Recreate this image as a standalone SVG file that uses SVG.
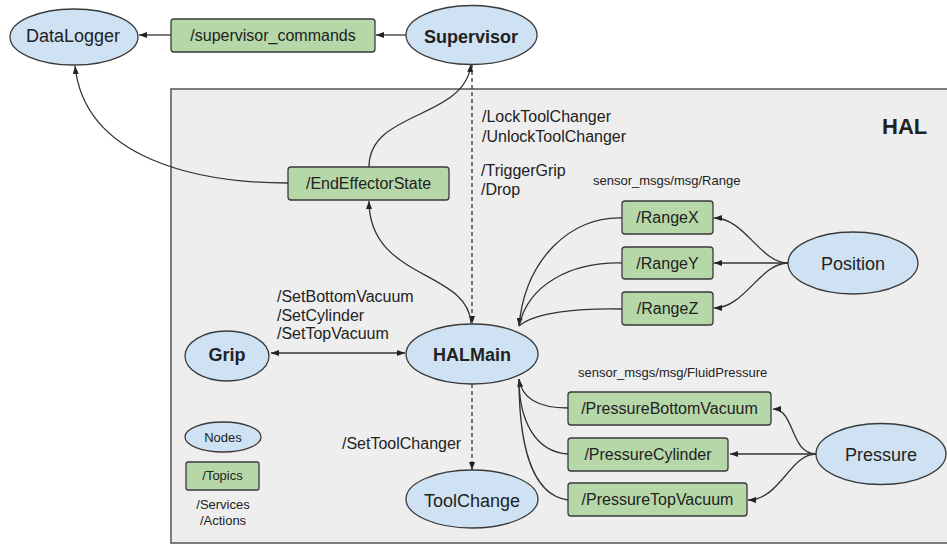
<svg xmlns="http://www.w3.org/2000/svg" width="947" height="545" viewBox="0 0 947 545">
  <style>
    .node { fill: #cfe2f3; stroke: #3a3a3a; stroke-width: 1.3; }
    .topic { fill: #b6d7a8; stroke: #3a3a3a; stroke-width: 1.3; }
    .lbl { font-family: "Liberation Sans", Arial, sans-serif; fill: #222; }
    .nl { font-size: 18px; text-anchor: middle; }
    .bold { font-weight: bold; }
    .tl { font-size: 16px; text-anchor: middle; }
    .sl { font-size: 16px; }
    .small { font-size: 13px; }
    .edge { fill: none; stroke: #333; stroke-width: 1.3; }
    .dash { stroke-dasharray: 4 3; }
  </style>
  <defs>
    <marker id="arrow" viewBox="0 0 8 6" refX="8" refY="3" markerWidth="8" markerHeight="6" markerUnits="userSpaceOnUse" orient="auto-start-reverse">
      <path d="M0,0 L8,3 L0,6 z" fill="#222"/>
    </marker>
  </defs>

  <!-- HAL package boundary -->
  <g id="hal">
    <rect x="171" y="89" width="790" height="454" fill="#eeeeee" stroke="#555" stroke-width="1.5"/>
    <text class="lbl bold" x="882" y="134" font-size="22">HAL</text>
  </g>

  <!-- connectors -->
  <g id="connectors">
    <path class="edge" d="M171,35 L139,35" marker-end="url(#arrow)"/>
    <path class="edge" d="M406,35 L376,35" marker-end="url(#arrow)"/>
    <path class="edge" d="M288,183 C200,183 85,160 75,66" marker-end="url(#arrow)"/>
    <path class="edge" d="M369,167 C369,110 465,120 471,64" marker-end="url(#arrow)"/>
    <path class="edge dash" d="M472,64 L472,324" marker-end="url(#arrow)"/>
    <path class="edge" d="M471,323 C468,270 369,280 369,201" marker-end="url(#arrow)"/>
    <path class="edge" d="M271,353 L405,353" marker-start="url(#arrow)" marker-end="url(#arrow)"/>
    <path class="edge dash" d="M472,384 L472,470" marker-end="url(#arrow)"/>
    <!-- range topics into HALMain -->
    <path class="edge" d="M622,218 C570,216 525,260 519,326" marker-end="url(#arrow)"/>
    <path class="edge" d="M622,263 C570,262 528,285 519,326"/>
    <path class="edge" d="M622,309 C580,308 535,312 519,326"/>
    <!-- Position publishes ranges -->
    <path class="edge" d="M788,263 C760,263 745,218 714,218" marker-end="url(#arrow)"/>
    <path class="edge" d="M788,263 L714,263" marker-end="url(#arrow)"/>
    <path class="edge" d="M788,263 C760,263 745,308 714,308" marker-end="url(#arrow)"/>
    <!-- pressure topics into HALMain -->
    <path class="edge" d="M568,408 C540,408 522,400 519,379" marker-end="url(#arrow)"/>
    <path class="edge" d="M568,454 C535,452 519,420 519,379"/>
    <path class="edge" d="M568,500 C530,495 519,440 519,379"/>
    <!-- Pressure publishes pressures -->
    <path class="edge" d="M816,454 C790,454 795,409 773,409" marker-end="url(#arrow)"/>
    <path class="edge" d="M816,454 L730,454" marker-end="url(#arrow)"/>
    <path class="edge" d="M816,454 C790,454 780,500 748,500" marker-end="url(#arrow)"/>
  </g>

  <!-- service / action labels -->
  <g id="service-labels" class="lbl sl">
    <text x="482" y="122">/LockToolChanger</text>
    <text x="482" y="142">/UnlockToolChanger</text>
    <text x="481" y="176">/TriggerGrip</text>
    <text x="481" y="195">/Drop</text>
    <text x="277" y="302">/SetBottomVacuum</text>
    <text x="277" y="321">/SetCylinder</text>
    <text x="277" y="339">/SetTopVacuum</text>
    <text x="342" y="449">/SetToolChanger</text>
    <text class="small" x="593" y="185">sensor_msgs/msg/Range</text>
    <text class="small" x="578" y="377">sensor_msgs/msg/FluidPressure</text>
  </g>

  <!-- nodes -->
  <g id="DataLogger">
    <ellipse class="node" cx="74" cy="37" rx="64" ry="28"/>
    <text class="lbl nl" x="73" y="42">DataLogger</text>
  </g>
  <g id="Supervisor">
    <ellipse class="node" cx="471.5" cy="35" rx="65.5" ry="29.5"/>
    <text class="lbl nl bold" x="471" y="43">Supervisor</text>
  </g>
  <g id="HALMain">
    <ellipse class="node" cx="472" cy="354" rx="66" ry="30"/>
    <text class="lbl nl bold" x="472" y="361">HALMain</text>
  </g>
  <g id="Grip">
    <ellipse class="node" cx="227" cy="356" rx="42" ry="25"/>
    <text class="lbl nl bold" x="227" y="361">Grip</text>
  </g>
  <g id="ToolChange">
    <ellipse class="node" cx="472" cy="499" rx="66" ry="29"/>
    <text class="lbl nl" x="472" y="507">ToolChange</text>
  </g>
  <g id="Position">
    <ellipse class="node" cx="853" cy="263" rx="65" ry="31"/>
    <text class="lbl nl" x="853" y="270">Position</text>
  </g>
  <g id="Pressure">
    <ellipse class="node" cx="881" cy="454" rx="65" ry="30.5"/>
    <text class="lbl nl" x="881" y="461">Pressure</text>
  </g>

  <!-- topics -->
  <g id="supervisor_commands">
    <rect class="topic" x="171" y="19" width="204" height="33" rx="3"/>
    <text class="lbl tl" x="273" y="41">/supervisor_commands</text>
  </g>
  <g id="EndEffectorState">
    <rect class="topic" x="288" y="167" width="161" height="33" rx="3"/>
    <text class="lbl tl" x="368.5" y="189">/EndEffectorState</text>
  </g>
  <g id="RangeX">
    <rect class="topic" x="622" y="201" width="91" height="33" rx="3"/>
    <text class="lbl tl" x="667.5" y="223">/RangeX</text>
  </g>
  <g id="RangeY">
    <rect class="topic" x="622" y="247" width="91" height="32" rx="3"/>
    <text class="lbl tl" x="667.5" y="269">/RangeY</text>
  </g>
  <g id="RangeZ">
    <rect class="topic" x="622" y="292" width="91" height="33" rx="3"/>
    <text class="lbl tl" x="667.5" y="314">/RangeZ</text>
  </g>
  <g id="PressureBottomVacuum">
    <rect class="topic" x="568" y="392" width="203" height="33" rx="3"/>
    <text class="lbl tl" x="669.5" y="414">/PressureBottomVacuum</text>
  </g>
  <g id="PressureCylinder">
    <rect class="topic" x="568" y="438" width="160" height="33" rx="3"/>
    <text class="lbl tl" x="648" y="460">/PressureCylinder</text>
  </g>
  <g id="PressureTopVacuum">
    <rect class="topic" x="568" y="483" width="179" height="33" rx="3"/>
    <text class="lbl tl" x="657.5" y="505">/PressureTopVacuum</text>
  </g>

  <!-- legend -->
  <g id="legend">
    <ellipse class="node" cx="223" cy="437" rx="38" ry="15"/>
    <text class="lbl small" x="223" y="442" text-anchor="middle">Nodes</text>
    <rect class="topic" x="186" y="462" width="73" height="28" rx="2"/>
    <text class="lbl small" x="222.5" y="480" text-anchor="middle">/Topics</text>
    <text class="lbl small" x="223" y="509" text-anchor="middle">/Services</text>
    <text class="lbl small" x="223" y="525" text-anchor="middle">/Actions</text>
  </g>
</svg>
